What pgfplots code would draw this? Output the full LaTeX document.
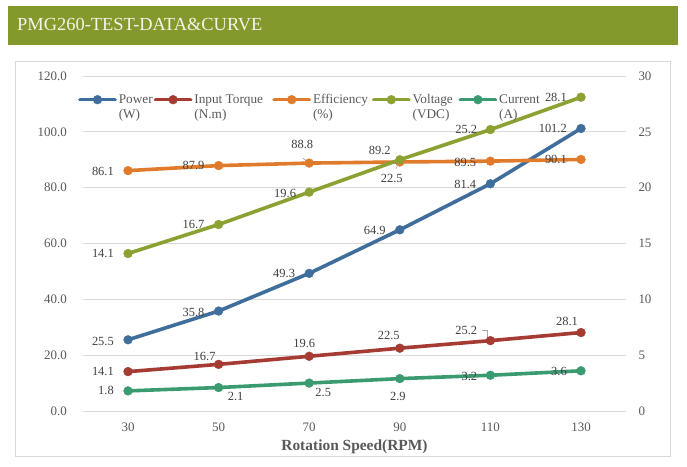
\documentclass[border=0pt]{standalone}
\usepackage{fontspec}
\setmainfont{Liberation Serif}
\usepackage{pgfplots}
\usepackage{pgfplotstable}
\pgfplotsset{compat=1.18}
\definecolor{barG}{HTML}{84992B}
\definecolor{titleC}{HTML}{F4F4E8}
\definecolor{borderC}{HTML}{D9D9D9}
\definecolor{gridC}{HTML}{D9D9D9}
\definecolor{tickC}{HTML}{595959}
\definecolor{labC}{HTML}{404040}
\definecolor{leadC}{HTML}{A6A6A6}
\definecolor{cPow}{HTML}{3F6E9C}
\definecolor{cTor}{HTML}{A53B33}
\definecolor{cEff}{HTML}{E07B2B}
\definecolor{cVol}{HTML}{8BA232}
\definecolor{cCur}{HTML}{3B9B70}

% a = 1: label anchored east (dx,dy from its right edge); a = 0: centred
\pgfplotstableread{
x y a dx dy
30 25.5 1 -14 -2
50 35.8 1 -14 -1
70 49.3 1 -14 0
90 64.9 1 -14 -1
110 81.4 1 -14 -1
130 101.2 1 -14 0
}\powT
\pgfplotstableread{
x y a dx dy
30 14.1 1 -14 0
50 16.7 0 -14 8
70 19.6 0 -5 13
90 22.5 0 -11 13
110 25.2 1 -13 10
130 28.1 0 -14 11
}\torT
\pgfplotstableread{
x y a dx dy
30 86.1 1 -14 -1
50 87.9 1 -14 0
70 88.8 0 -7 19
90 89.2 0 -20 12
110 89.5 1 -14 -1
130 90.1 1 -14 0
}\effT
\pgfplotstableread{
x y a dx dy
30 14.1 1 -14 0
50 16.7 1 -14 0
70 19.6 1 -13 -1
90 22.5 0 -8 -19
110 25.2 1 -13 0
130 28.1 1 -14 0
}\volT
\pgfplotstableread{
x y a dx dy
30 1.8 1 -14 0
50 2.1 0 17 -8.5
70 2.5 0 14 -9
90 2.9 0 -2 -18
110 3.2 1 -13 -1.5
130 3.6 1 -14 -1
}\curT

\tikzset{anchsel/.code={\ifdim #1pt>0.5pt \pgfkeysalso{/tikz/anchor=east}\else\pgfkeysalso{/tikz/anchor=center}\fi}}

\pgfplotsset{
  /pgf/number format/assume math mode=true,
  base/.style={
    at={(82.7bp,56bp)}, anchor=south west, scale only axis,
    width=543.6bp, height=335bp, xmin=20, xmax=140, clip=false,
    axis line style={draw=none}, major tick length=0pt,
    tick label style={font=\fontsize{13}{15}\selectfont, text=tickC, inner sep=0pt},
    legend image code/.code={\draw[##1,mark repeat=2,mark phase=2] plot coordinates {(0bp,0bp)(17.5bp,0bp)(35bp,0bp)};},
  },
  ser/.style={color=#1, line width=3.6bp, line cap=round, line join=round,
    mark=*, mark size=4.4bp, mark options={solid, line width=0.4bp, draw=#1, fill=#1}},
  pw/.style={ser=cPow}, tq/.style={ser=cTor}, ef/.style={ser=cEff},
  vo/.style={ser=cVol}, cu/.style={ser=cCur},
  dl/.style={
    nodes near coords={\pgfmathprintnumber[fixed,fixed zerofill,precision=1]{\pgfplotspointmeta}},
    point meta=explicit,
    visualization depends on={\thisrow{a}\as\lanc},
    visualization depends on={\thisrow{dx}\as\ldx},
    visualization depends on={\thisrow{dy}\as\ldy},
    every node near coord/.append style={anchsel=\lanc, inner sep=0pt,
      xshift=\ldx bp, yshift=\ldy bp, font=\fontsize{12.5}{14}\selectfont, text=labC},
  },
}

\begin{document}
\begin{tikzpicture}[x=1bp,y=1bp]
\useasboundingbox (0,0) rectangle (687,467);
\fill[white] (0,0) rectangle (687,467);
\fill[barG] (8,422) rectangle (678,461);
\node[anchor=west, text=titleC, font=\fontsize{18.5}{22}\selectfont, inner sep=0pt] at (17,442) {PMG260-TEST-DATA\&CURVE};
\draw[borderC, line width=1bp] (15,10) rectangle (670,405);

\begin{axis}[base,
  ymin=0, ymax=120, xtick={30,50,...,130}, ytick={0,20,...,120},
  ymajorgrids, grid style={gridC, line width=0.8bp},
  yticklabel style={anchor=east, xshift=-15.7bp, /pgf/number format/.cd, fixed, fixed zerofill, precision=1},
  xticklabel style={anchor=north, yshift=-11.5bp},
  xlabel={Rotation Speed(RPM)},
  xlabel style={at={(axis description cs:0.5,0)}, anchor=center, yshift=-36bp,
    font=\bfseries\fontsize{15.5}{18}\selectfont, text=tickC},
]
\draw[leadC, line width=0.6bp] (axis cs:68.6,90.6) -- (axis cs:69.8,89.0);
\draw[leadC, line width=0.6bp] (axis cs:108.15,29.0) -- (axis cs:109.25,29.0) -- (axis cs:109.25,26.6);
\addplot[pw, dl] table[x=x, y=y, meta=y] {\powT};
\addplot[tq, dl] table[x=x, y=y, meta=y] {\torT};
\addplot[ef, dl] table[x=x, y=y, meta=y] {\effT};
\end{axis}

\begin{axis}[base,
  ymin=0, ymax=30, xtick=\empty, ytick={0,5,...,30}, yticklabel pos=right,
  yticklabel style={anchor=west, xshift=12bp},
  legend style={at={(-0.0086,0.946)}, anchor=north west, draw=none, fill=none,
    inner sep=0pt, legend columns=5, nodes={inner sep=0pt, font=\fontsize{13.3}{15}\selectfont, text=tickC},
    /tikz/every odd column/.append style={column sep=2bp}},
  legend cell align=left,
]
\addlegendimage{pw}\addlegendentry{\parbox[t]{35bp}{Power\\(W)}}
\addlegendimage{tq}\addlegendentry{\parbox[t]{78bp}{Input Torque\\(N.m)}}
\addlegendimage{ef}\addlegendentry{\parbox[t]{59bp}{Efficiency\\(\%)}}
\addlegendimage{vo}\addlegendentry{\parbox[t]{46bp}{Voltage\\(VDC)}}
\addlegendimage{cu}\addlegendentry{\parbox[t]{35bp}{Current\\(A)}}
\draw[leadC, line width=0.6bp] (axis cs:90.04,22.39) -- (axis cs:89.16,21.7);
\addplot[vo, dl, forget plot] table[x=x, y=y, meta=y] {\volT};
\addplot[cu, dl, forget plot] table[x=x, y=y, meta=y] {\curT};
\end{axis}
\end{tikzpicture}
\end{document}
